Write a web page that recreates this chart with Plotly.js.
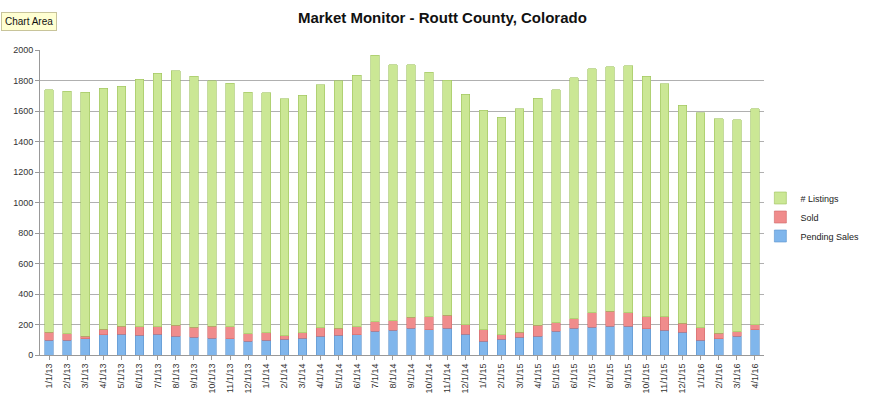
<!DOCTYPE html>
<html>
<head>
<meta charset="utf-8">
<script src="https://cdn.plot.ly/plotly-3.0.1.min.js"></script>
<style>html,body{margin:0;padding:0;background:#fff;}#chart{width:876px;height:398px;}</style>
</head>
<body>
<div id="chart"></div>
<script>
const months = ["1/1/13","2/1/13","3/1/13","4/1/13","5/1/13","6/1/13","7/1/13","8/1/13","9/1/13","10/1/13","11/1/13","12/1/13",
"1/1/14","2/1/14","3/1/14","4/1/14","5/1/14","6/1/14","7/1/14","8/1/14","9/1/14","10/1/14","11/1/14","12/1/14",
"1/1/15","2/1/15","3/1/15","4/1/15","5/1/15","6/1/15","7/1/15","8/1/15","9/1/15","10/1/15","11/1/15","12/1/15",
"1/1/16","2/1/16","3/1/16","4/1/16"];
const pendingSales = [96,98,107,133,135,130,135,124,117,111,107,91,96,102,111,122,128,133,157,163,174,167,174,135,91,104,117,124,157,174,183,187,189,172,163,150,98,107,122,167];
const sold = [54,43,17,35,54,55,50,70,65,76,78,50,50,24,35,56,46,52,61,63,74,83,87,65,76,30,33,72,54,65,93,100,87,80,87,59,80,37,30,33];
const listings = [1590,1588,1598,1581,1573,1622,1664,1670,1647,1611,1597,1583,1574,1556,1556,1593,1624,1648,1746,1676,1656,1603,1541,1511,1437,1426,1466,1488,1527,1579,1600,1602,1620,1575,1528,1429,1411,1405,1390,1416];

const traces = [
  {type:'bar', name:'Pending Sales', x:months, y:pendingSales,
   marker:{color:'#80b6ec', line:{color:'#5d93cc', width:0.6}}},
  {type:'bar', name:'Sold', x:months, y:sold,
   marker:{color:'#f08c8c', line:{color:'#d06a6a', width:0.6}}},
  {type:'bar', name:'# Listings', x:months, y:listings,
   marker:{color:'#cbe795', line:{color:'#9fc35e', width:0.6}}}
];

const layout = {
  width:876, height:398,
  margin:{l:40, r:99, t:50, b:43},
  paper_bgcolor:'#ffffff', plot_bgcolor:'#ffffff',
  barmode:'stack', bargap:0.52,
  font:{family:'"Liberation Sans", Arial, sans-serif', color:'#222', size:9},
  title:{text:'<b>Market Monitor - Routt County, Colorado</b>', x:0.505, xanchor:'center', y:0.955, yanchor:'middle',
         font:{family:'"Liberation Sans", Arial, sans-serif', size:15, color:'#111'}},
  xaxis:{type:'category', tickangle:-90, tickfont:{size:9, color:'#333'}, showgrid:false,
         showline:true, linecolor:'#999', ticks:'outside', ticklen:4, tickcolor:'#999', automargin:false},
  yaxis:{range:[0,2000], dtick:200, tickfont:{size:9, color:'#333'}, showgrid:true, gridcolor:'#b0b0b0', gridwidth:1,
         showline:true, linecolor:'#999', ticks:'outside', ticklen:4, tickcolor:'#999', zeroline:false, automargin:false},
  legend:{x:0.995, xanchor:'left', y:(355-217)/305, yanchor:'middle', traceorder:'reversed', font:{size:9, color:'#222'},
          itemwidth:30, tracegroupgap:6, bgcolor:'rgba(0,0,0,0)'},
  showlegend:true,
  annotations:[{xref:'paper', yref:'paper', x:-40/737, y:(355-12)/305, xanchor:'left', yanchor:'top',
    text:'Chart Area', showarrow:false, font:{size:10, color:'#111'}, bgcolor:'#ffffd2', bordercolor:'#c8c49a',
    borderwidth:1, borderpad:3}]
};
Plotly.newPlot('chart', traces, layout, {displayModeBar:false, staticPlot:true});
</script>
</body>
</html>
